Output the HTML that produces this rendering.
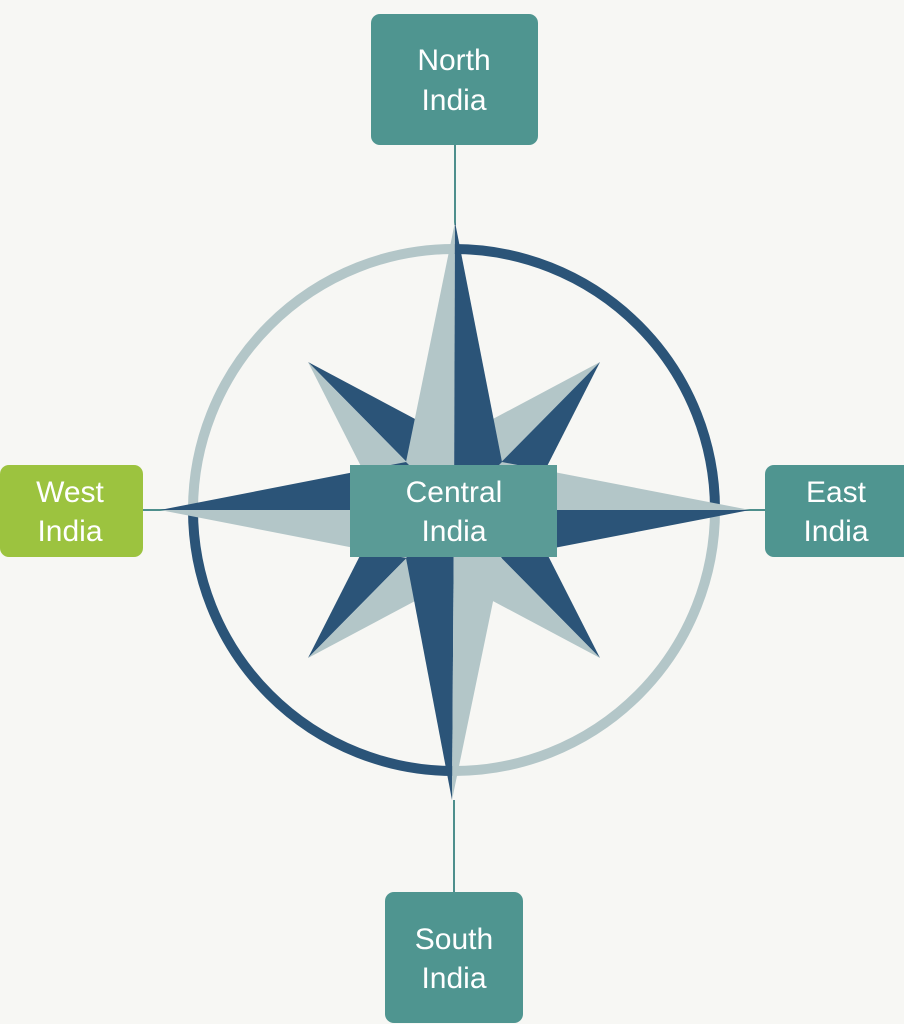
<!DOCTYPE html>
<html><head><meta charset="utf-8"><style>
html,body{margin:0;padding:0;background:#f7f7f4;}
svg{display:block}
text{font-family:"Liberation Sans",sans-serif;fill:#fff;font-size:30px;text-anchor:middle}
</style></head><body>
<svg width="904" height="1024" viewBox="0 0 904 1024">
<rect width="904" height="1024" fill="#f7f7f4"/>
<g stroke="#4e8f8c" stroke-width="2">
<line x1="455" y1="145" x2="455" y2="225"/>
<line x1="454" y1="800" x2="454" y2="892"/>
<line x1="143" y1="510" x2="165" y2="510"/>
<line x1="745" y1="510" x2="765" y2="510"/>
</g>
<g fill="none" stroke-width="10">
<path d="M454 249 A261 261 0 0 1 715 510" stroke="#2b5478"/>
<path d="M715 510 A261 261 0 0 1 454 771" stroke="#b3c6c8"/>
<path d="M454 771 A261 261 0 0 1 193 510" stroke="#2b5478"/>
<path d="M193 510 A261 261 0 0 1 454 249" stroke="#b3c6c8"/>
</g>
<g>
<polygon points="308,362 454,510 432,428" fill="#2b5478"/>
<polygon points="308,362 454,510 372,488" fill="#b3c6c8"/>
<polygon points="600,362 454,510 476,428" fill="#b3c6c8"/>
<polygon points="600,362 454,510 536,488" fill="#2b5478"/>
<polygon points="308,658 454,510 372,532" fill="#2b5478"/>
<polygon points="308,658 454,510 432,592" fill="#b3c6c8"/>
<polygon points="600,658 454,510 536,532" fill="#2b5478"/>
<polygon points="600,658 454,510 476,592" fill="#b3c6c8"/>
</g>
<g>
<polygon points="455,222 406,462 454,510" fill="#b3c6c8"/>
<polygon points="455,222 502,462 454,510" fill="#2b5478"/>
<polygon points="452,800 406,558 454,510" fill="#2b5478"/>
<polygon points="452,800 502,558 454,510" fill="#b3c6c8"/>
<polygon points="160,510 406,462 454,510" fill="#2b5478"/>
<polygon points="160,510 406,558 454,510" fill="#b3c6c8"/>
<polygon points="750,510 502,462 454,510" fill="#b3c6c8"/>
<polygon points="750,510 502,558 454,510" fill="#2b5478"/>
</g>
<rect x="371" y="14" width="167" height="131" rx="9" fill="#4f9590"/>
<text x="454" y="70">North</text><text x="454" y="110">India</text>
<rect x="0" y="465" width="143" height="92" rx="9" fill="#9cc33f"/>
<text x="70" y="502">West</text><text x="70" y="541">India</text>
<rect x="765" y="465" width="150" height="92" rx="9" fill="#4f9590"/>
<text x="836" y="502">East</text><text x="836" y="541">India</text>
<rect x="385" y="892" width="138" height="131" rx="9" fill="#4f9590"/>
<text x="454" y="949">South</text><text x="454" y="988">India</text>
<rect x="350" y="465" width="207" height="92" fill="#5a9b96"/>
<text x="454" y="502">Central</text><text x="454" y="541">India</text>
</svg>
</body></html>
